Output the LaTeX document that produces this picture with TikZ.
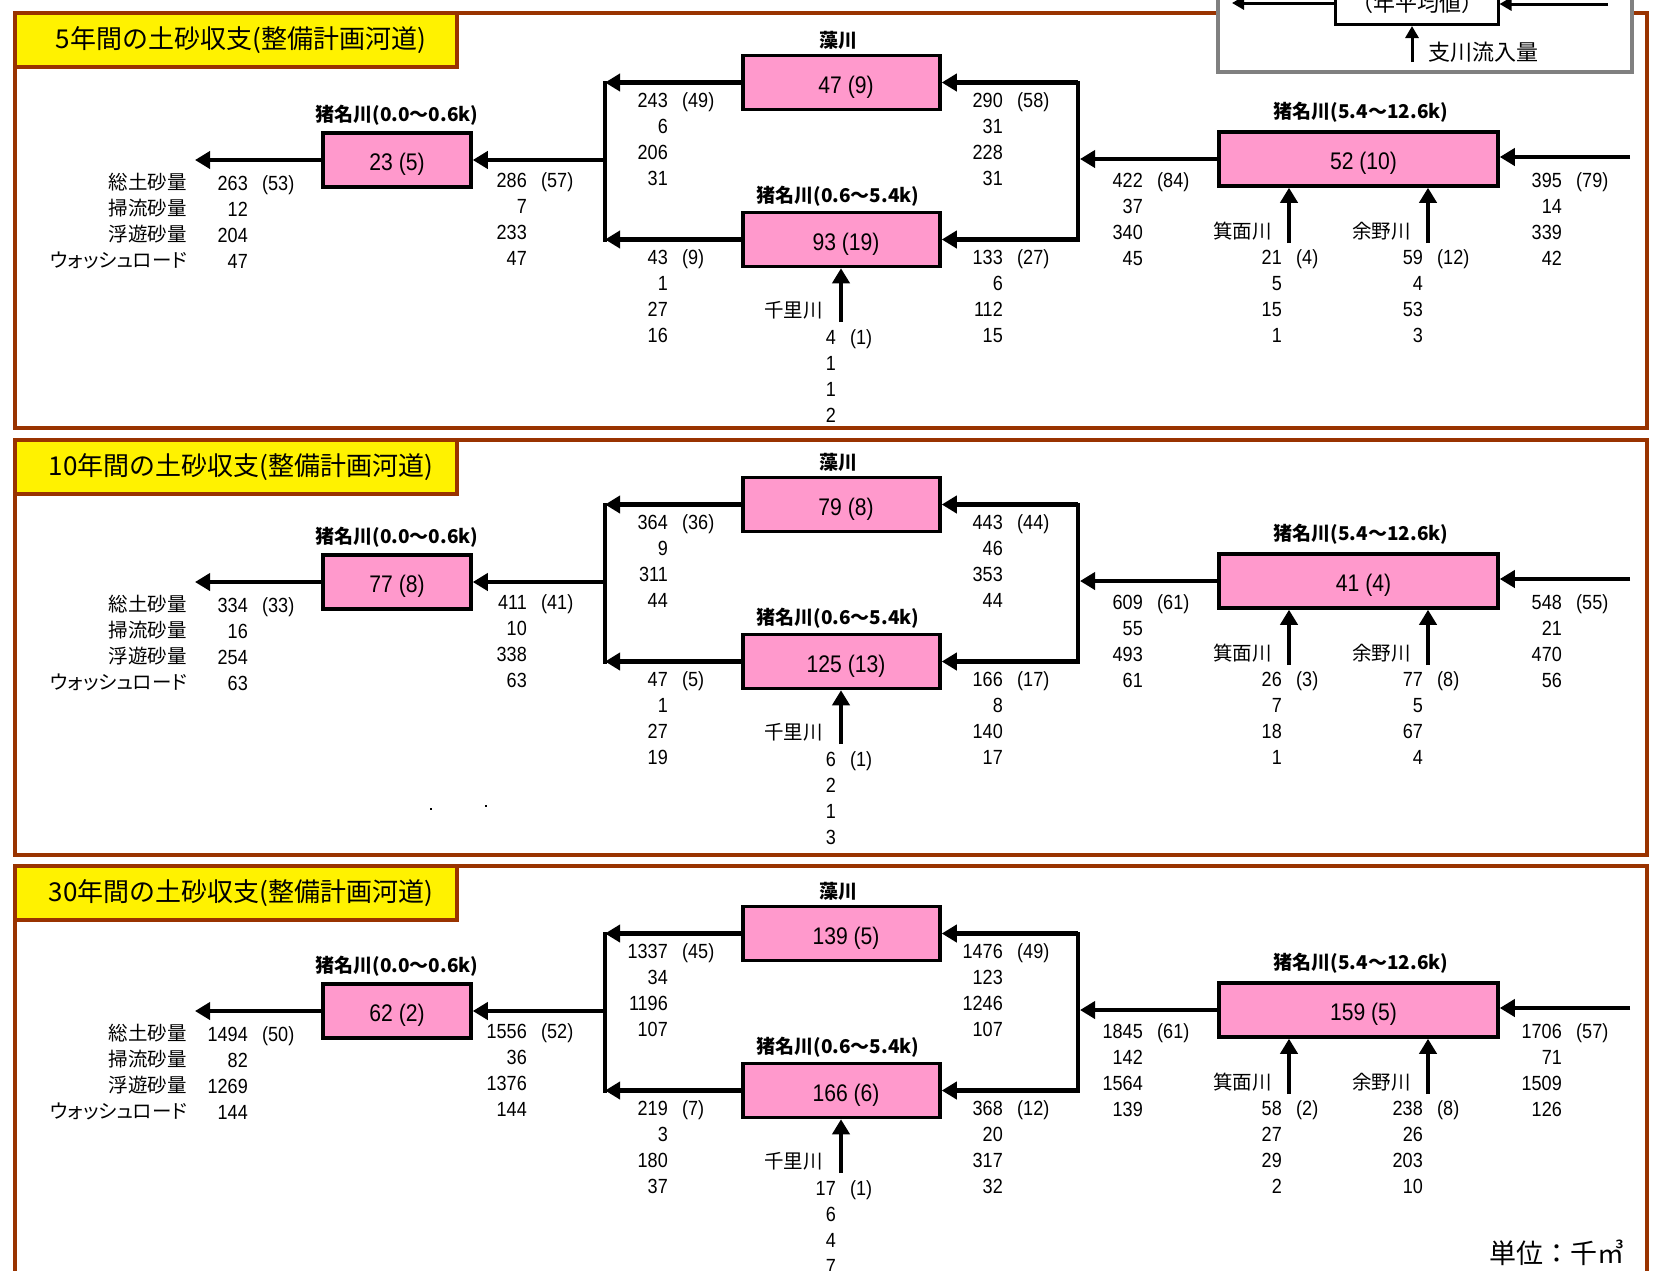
\documentclass[tikz,border=0pt]{standalone}
\usepackage{fontspec}
\setmainfont{Liberation Sans}[FakeStretch=0.88]
\newfontfamily\jp{Noto Sans CJK JP}
\newfontfamily\jpp{Noto Sans CJK JP}[RawFeature=+palt]
\usetikzlibrary{arrows.meta,positioning}

\definecolor{framebrown}{HTML}{993300}
\definecolor{boxpink}{HTML}{FF99CC}
\definecolor{keygray}{HTML}{808080}

\tikzstyle {frameline} = [draw=framebrown, line width=3.5pt]
\tikzstyle {titlebox} = [draw=framebrown, line width=4pt, fill=yellow, minimum width=442pt, minimum height=54pt, inner sep=0pt, font=\jp\fontsize{26}{28}\selectfont]
\tikzstyle {sbox} = [draw, line width=3.5pt, fill=boxpink, minimum height=54pt, inner sep=0pt, text height=24.6pt, text depth=2.8pt, font=\fontsize{24}{28}\selectfont]
\tikzstyle {rname} = [inner sep=0pt, font=\jp\bfseries\fontsize{19}{22}\selectfont]
\tikzstyle {jlabel} = [inner sep=0pt, font=\jp\fontsize{19.5}{22}\selectfont]
\tikzstyle {num} = [inner sep=0pt, font=\fontsize{20.5}{24}\selectfont]
\tikzstyle {flow} = [line width=4.5pt, -{Triangle[length=15pt,width=17pt]}]
\tikzstyle {keyflow} = [line width=3pt, -{Triangle[length=12pt,width=13pt]}]
\tikzstyle {link} = [line width=4pt, line cap=rect]

% four values in a column, the first one with its share in brackets
\newcommand{\vals}[5]{%
  \foreach \vv [count=\row] in {#5}
    \node[num, anchor=base east] (#1-\row) at ({#2},{#3+7.3+(\row-1)*25.9}) {\vv};
  \node[num, anchor=base west] (#1-p) at ({#2+14},{#3+7.3}) {(#4)};
}

\newcommand{\panelframe}[3]{%
  \draw[frameline] (15,{13+#2}) rectangle (1647,{428+#2});
  \node[titlebox] (#1-title) at (236,{40+#2}) {\hspace*{10pt}#3};
}

\newcommand{\network}[5]{%
  \node[sbox, minimum width=148pt] (#1-b1) at (397,160) {#2};
  \node[sbox, minimum width=197pt] (#1-b3) at (841.5,82.5) {\hspace*{9pt}#3};
  \node[sbox, minimum width=197pt] (#1-b2) at (841.5,239.5) {\hspace*{9pt}#4};
  \node[sbox, minimum width=279pt] (#1-b4) at (1358.5,159) {\hspace*{10pt}#5};
  \node[rname] (#1-n1) at (397,115) {猪名川(0.0～0.6k)};
  \node[rname] (#1-n3) at (838,40) {藻川};
  \node[rname] (#1-n2) at (838,196) {猪名川(0.6～5.4k)};
  \node[rname] (#1-n4) at (1361,112) {猪名川(5.4～12.6k)};
  \node[jlabel, anchor=east] (#1-l1) at (187,182) {総土砂量};
  \node[jlabel, anchor=east] (#1-l2) at (187,208) {掃流砂量};
  \node[jlabel, anchor=east] (#1-l3) at (187,234) {浮遊砂量};
  \node[jlabel, anchor=east, font=\jpp\fontsize{19.5}{22}\selectfont] (#1-l4) at (187,260) {ウォッシュロード};
  \node[jlabel, anchor=east] (#1-t1) at (823,310) {千里川};
  \node[jlabel, anchor=east] (#1-t2) at (1272,231) {箕面川};
  \node[jlabel, anchor=east] (#1-t3) at (1411,231) {余野川};
  \coordinate (#1-out) at (195,160);
  \coordinate (#1-lm) at (605,160);
  \coordinate (#1-lt) at (605,82.5);
  \coordinate (#1-lb) at (605,239.5);
  \coordinate (#1-rm) at (1080,159);
  \coordinate (#1-rt) at (1078,82.5);
  \coordinate (#1-rb) at (1078,239.5);
  \coordinate (#1-in) at (1630,157);
  \coordinate (#1-s1) at (841,322);
  \coordinate (#1-s2) at (1289,243);
  \coordinate (#1-s3) at (1428,243);
  \draw[link] (#1-lt) -- (#1-lb);
  \draw[link] (#1-rt) -- (#1-rb);
  \draw[flow] (#1-b1.west) -- (#1-out);
  \draw[flow] (#1-lm) -- (#1-b1.east);
  \draw[flow] (#1-b3.west) -- (#1-lt);
  \draw[flow] (#1-b2.west) -- (#1-lb);
  \draw[flow] (#1-rt) -- (#1-b3.east);
  \draw[flow] (#1-rb) -- (#1-b2.east);
  \draw[flow] (#1-b4.west) -- (#1-rm);
  \draw[flow] (#1-in) -- (#1-in -| #1-b4.east);
  \draw[flow] (#1-s1) -- (#1-s1 |- #1-b2.south);
  \draw[flow] (#1-s2) -- (#1-s2 |- #1-b4.south);
  \draw[flow] (#1-s3) -- (#1-s3 |- #1-b4.south);
}

\begin{document}
\begin{tikzpicture}[x=1pt, y=-1pt]
  \useasboundingbox (0,0) rectangle (1657,1270);
  \clip (0,0) rectangle (1657,1270);

  \panelframe{a}{0}{5年間の土砂収支(整備計画河道)}
  \panelframe{b}{427}{10年間の土砂収支(整備計画河道)}
  \panelframe{c}{853}{30年間の土砂収支(整備計画河道)}

  % key, cut off at the top edge
  \draw[draw=keygray, line width=4pt, fill=white] (1218,-30) rectangle (1632,72);
  \node[draw, line width=3pt, fill=white, minimum width=163pt, minimum height=70pt, anchor=south] (key) at (1416.5,26) {};
  \node[jlabel, font=\jp\fontsize{22}{24}\selectfont] (key-t) at (1417,3) {（年平均値）};
  \coordinate (key-l) at (1232,3);
  \coordinate (key-r) at (1608,4);
  \coordinate (key-u) at (1412,62);
  \draw[keyflow] (key.west |- key-l) -- (key-l);
  \draw[keyflow] (key-r) -- (key-r -| key.east);
  \draw[keyflow] (key-u) -- (key-u |- key.south);
  \node[jlabel, anchor=west, font=\jp\fontsize{22}{24}\selectfont] (key-s) at (1428,52) {支川流入量};

  \begin{scope}
    \network{a}{23 (5)}{47 (9)}{93 (19)}{52 (10)}
    \vals{a-lo}{248}{183}{53}{263,12,204,47}
    \vals{a-li}{527}{180}{57}{286,7,233,47}
    \vals{a-tl}{668}{100}{49}{243,6,206,31}
    \vals{a-tr}{1003}{100}{58}{290,31,228,31}
    \vals{a-bl}{668}{257}{9}{43,1,27,16}
    \vals{a-br}{1003}{257}{27}{133,6,112,15}
    \vals{a-se}{836}{337}{1}{4,1,1,2}
    \vals{a-ro}{1143}{180}{84}{422,37,340,45}
    \vals{a-ri}{1562}{180}{79}{395,14,339,42}
    \vals{a-mi}{1282}{257}{4}{21,5,15,1}
    \vals{a-yo}{1423}{257}{12}{59,4,53,3}
  \end{scope}

  \begin{scope}[shift={(0,422)}]
    \network{b}{77 (8)}{79 (8)}{125 (13)}{41 (4)}
    \vals{b-lo}{248}{183}{33}{334,16,254,63}
    \vals{b-li}{527}{180}{41}{411,10,338,63}
    \vals{b-tl}{668}{100}{36}{364,9,311,44}
    \vals{b-tr}{1003}{100}{44}{443,46,353,44}
    \vals{b-bl}{668}{257}{5}{47,1,27,19}
    \vals{b-br}{1003}{257}{17}{166,8,140,17}
    \vals{b-se}{836}{337}{1}{6,2,1,3}
    \vals{b-ro}{1143}{180}{61}{609,55,493,61}
    \vals{b-ri}{1562}{180}{55}{548,21,470,56}
    \vals{b-mi}{1282}{257}{3}{26,7,18,1}
    \vals{b-yo}{1423}{257}{8}{77,5,67,4}
  \end{scope}
  \fill (430,808) rectangle (432,810);
  \fill (485,805) rectangle (487,807);

  \begin{scope}[shift={(0,851)}]
    \network{c}{62 (2)}{139 (5)}{166 (6)}{159 (5)}
    \vals{c-lo}{248}{183}{50}{1494,82,1269,144}
    \vals{c-li}{527}{180}{52}{1556,36,1376,144}
    \vals{c-tl}{668}{100}{45}{1337,34,1196,107}
    \vals{c-tr}{1003}{100}{49}{1476,123,1246,107}
    \vals{c-bl}{668}{257}{7}{219,3,180,37}
    \vals{c-br}{1003}{257}{12}{368,20,317,32}
    \vals{c-se}{836}{337}{1}{17,6,4,7}
    \vals{c-ro}{1143}{180}{61}{1845,142,1564,139}
    \vals{c-ri}{1562}{180}{57}{1706,71,1509,126}
    \vals{c-mi}{1282}{257}{2}{58,27,29,2}
    \vals{c-yo}{1423}{257}{8}{238,26,203,10}
  \end{scope}

  \node[jlabel, anchor=east, font=\jp\fontsize{27}{30}\selectfont] (unit) at (1625,1253) {単位：千㎥};
\end{tikzpicture}
\end{document}
